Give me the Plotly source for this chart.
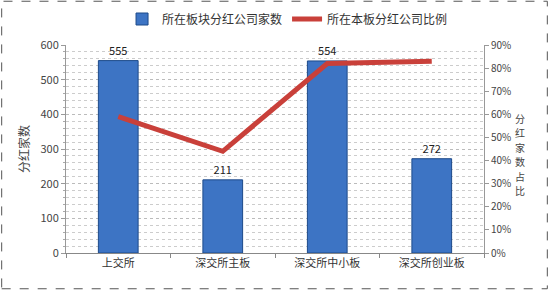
import plotly.graph_objects as go

categories = ["上交所", "深交所主板", "深交所中小板", "深交所创业板"]
company_counts = [555, 211, 554, 272]
ratios = [0.59, 0.44, 0.82, 0.83]
bar_name = "所在板块分红公司家数"
line_name = "所在本板分红公司比例"
right_title = "分红家数占比"

FONT = "Noto Sans CJK SC"
GRAY = "#444444"
PLOT_H = 208
PLOT_W = 418

fig = go.Figure()
fig.add_trace(go.Bar(
    x=categories, y=company_counts, name=bar_name,
    marker=dict(color="#3d74c4", line=dict(color="#1d4a8a", width=1)),
    width=0.38,
    text=[str(v) for v in company_counts], textposition="outside",
    textfont=dict(size=11, color="#222222", family=FONT),
    cliponaxis=False,
))
fig.add_trace(go.Scatter(
    x=categories, y=ratios, name=line_name, yaxis="y2",
    mode="lines", line=dict(color="#c9403a", width=5),
))

fig.update_layout(
    width=549, height=290,
    margin=dict(l=66, r=65, t=45, b=37, autoexpand=False),
    paper_bgcolor="white", plot_bgcolor="white",
    font=dict(family=FONT, size=11, color=GRAY),
    showlegend=True,
    legend=dict(orientation="h", x=0.53, xanchor="center", y=1 - 19/290, yanchor="middle",
                yref="container",
                font=dict(size=12, color="#333333"),
                bgcolor="rgba(0,0,0,0)"),
    bargap=0.6,
    xaxis=dict(showline=True, linecolor="#888888", ticks="outside", tickson="boundaries",
               tickcolor="#888888", ticklen=4, tickfont=dict(size=11, color="#333333"),
               showgrid=False),
    yaxis=dict(range=[0, 600], dtick=100, showline=True, linecolor="#999999",
               ticks="outside", ticklen=4, tickcolor="#999999",
               showgrid=True, gridcolor="#bbbbbb", griddash="dot", gridwidth=1,
               minor=dict(dtick=20, showgrid=True, gridcolor="#cccccc", griddash="dot",
                          ticks="outside", ticklen=2, tickcolor="#aaaaaa"),
               zeroline=False, tickfont=dict(size=11, color="#444444"),
               title=dict(text="分红家数", font=dict(size=12, color="#444444"), standoff=8)),
    yaxis2=dict(range=[0, 0.9], dtick=0.1, tickformat=".0%", overlaying="y", side="right",
                showline=True, linecolor="#999999", ticks="outside", ticklen=4,
                tickcolor="#999999", showgrid=False, zeroline=False,
                tickfont=dict(size=10, color="#444444")),
)

# Right axis title: upright stacked characters
top_px = 118  # pixel y of first character center (from top of figure)
for i, ch in enumerate(right_title):
    py = top_px + i * 14.5
    fig.add_annotation(
        text=ch, xref="paper", yref="paper",
        x=(520 - 66) / PLOT_W, y=(253 - py) / PLOT_H,
        xanchor="center", yanchor="middle", showarrow=False, borderpad=0,
        font=dict(size=10, color="#444444"),
    )

fig.add_shape(type="rect", xref="paper", yref="paper",
              x0=-66/PLOT_W + 0.004, x1=1 + 65/PLOT_W - 0.004,
              y0=-37/PLOT_H + 0.006, y1=1 + 45/PLOT_H - 0.006,
              line=dict(color="#555555", width=1, dash="dash"), layer="below")

fig.write_html("out.html")
